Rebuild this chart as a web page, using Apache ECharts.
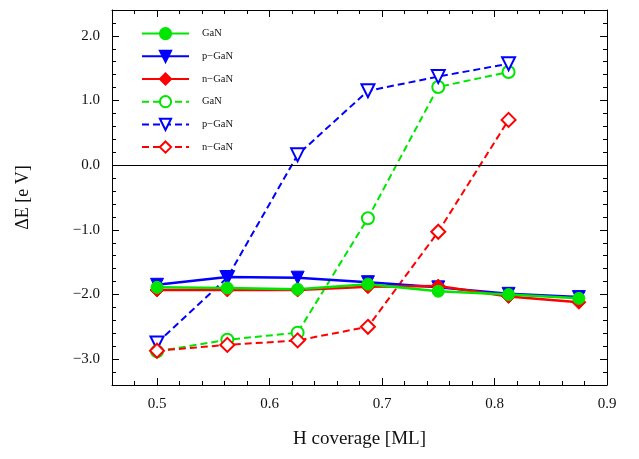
<!DOCTYPE html>
<html lang="en">
<head>
    <meta charset="UTF-8">
    <title>H coverage</title>
    <script src="https://cdn.jsdelivr.net/npm/echarts@6/dist/echarts.min.js"></script>
    <style>
        body { margin: 0; background: #fff; }
        #main { width: 639px; height: 459px; }
    </style>
</head>
<body>
<div id="main"></div>
<script type="text/javascript">
    // H coverage (ML)
    var coverage = [0.5, 0.5625, 0.625, 0.6875, 0.75, 0.8125, 0.875];
    // solid lines
    var ganSolid  = [-1.89, -1.90, -1.92, -1.84, -1.95, -2.00, -2.06];
    var pganSolid = [-1.85, -1.73, -1.74, -1.81, -1.89, -1.99, -2.04];
    var nganSolid = [-1.93, -1.93, -1.93, -1.88, -1.87, -2.03, -2.12];
    // dashed lines (no point at 0.875)
    var ganDash  = [-2.88, -2.70, -2.59, -0.82, 1.21, 1.44];
    var pganDash = [-2.75, -1.74, 0.16, 1.15, 1.37, 1.57];
    var nganDash = [-2.87, -2.78, -2.71, -2.50, -1.03, 0.70];

    var xTicks = [0.5, 0.6, 0.7, 0.8, 0.9];
    var yTicks = [-3, -2, -1, 0, 1, 2];

    var xMin = 0.46, xMax = 0.9, yMin = -3.4, yMax = 2.4;

    // minor ticks every 0.02 / 0.2
    var xMinor = [], yMinor = [];
    for (var i = 24; i < 45; i++) { if (i % 5 !== 0) xMinor.push(+(i * 0.02).toFixed(2)); }
    for (var j = -16; j <= 11; j++) { if (j % 5 !== 0) yMinor.push(+(j * 0.2).toFixed(1)); }

    function pairs(vals) {
        var out = [];
        for (var k = 0; k < vals.length; k++) out.push([coverage[k], vals[k]]);
        return out;
    }

    var serif = 'Liberation Serif';
    var GREEN = '#00e600', BLUE = '#0000ff', RED = '#ff0000';

    function fmtY(v) {
        if (Math.abs(v) < 1e-9) return '0.0';
        return (v < 0 ? '\u2212' : '') + Math.abs(v).toFixed(1);
    }

    function mkX(pos, ticks, len, showLine, showLabel, extra) {
        var a = {
            type: 'value', position: pos, min: xMin, max: xMax,
            gridIndex: 0,
            axisLine: { show: showLine, onZero: false, lineStyle: { color: '#000', width: 1 } },
            axisTick: { show: true, inside: true, length: len, customValues: ticks, lineStyle: { color: '#000' } },
            axisLabel: { show: showLabel, customValues: xTicks, formatter: function (v) { return v.toFixed(1); },
                fontFamily: serif, fontSize: 15, color: '#111', margin: 12 },
            splitLine: { show: false }
        };
        if (extra) for (var k in extra) a[k] = extra[k];
        return a;
    }
    function mkY(pos, ticks, len, showLine, showLabel, extra) {
        var a = {
            type: 'value', position: pos, min: yMin, max: yMax,
            gridIndex: 0,
            axisLine: { show: showLine, onZero: false, lineStyle: { color: '#000', width: 1 } },
            axisTick: { show: true, inside: true, length: len, customValues: ticks, lineStyle: { color: '#000' } },
            axisLabel: { show: showLabel, customValues: yTicks, formatter: fmtY,
                fontFamily: serif, fontSize: 15, color: '#111', margin: 12 },
            splitLine: { show: false }
        };
        if (extra) for (var k in extra) a[k] = extra[k];
        return a;
    }

    function solid(name, vals, color, symbol, size, rot) {
        return {
            name: name, type: 'line', xAxisIndex: 0, yAxisIndex: 0,
            data: pairs(vals), symbol: symbol, symbolSize: size, symbolRotate: rot || 0,
            lineStyle: { color: color, width: 2.5 },
            itemStyle: { color: color, borderColor: color, borderWidth: 1 },
            z: 3
        };
    }
    function dashed(name, vals, color, symbol, size, rot) {
        return {
            name: name, type: 'line', xAxisIndex: 0, yAxisIndex: 0,
            data: pairs(vals), symbol: symbol, symbolSize: size, symbolRotate: rot || 0,
            lineStyle: { color: color, width: 2, type: [7, 4] },
            itemStyle: { color: '#fff', borderColor: color, borderWidth: 2 },
            z: 2
        };
    }

    var myChart = echarts.init(document.getElementById('main'));
    var zeroLine = dashed('GaN ', ganDash, GREEN, 'circle', 12);
    zeroLine.markLine = {
        silent: true, symbol: 'none', label: { show: false },
        lineStyle: { color: '#000', width: 1, type: 'solid' },
        data: [{ yAxis: 0 }]
    };

    myChart.setOption({
        animation: false,
        backgroundColor: '#fff',
        grid: { left: 112, right: 32, top: 10, bottom: 74 },
        legend: {
            orient: 'vertical', left: 136, top: 22,
            itemWidth: 47, itemHeight: 14, itemGap: 9.5,
            textStyle: { fontFamily: serif, fontSize: 10.5, color: '#111', padding: [0, 0, 0, 8] },
            data: ['GaN', 'p\u2212GaN', 'n\u2212GaN', 'GaN ', 'p\u2212GaN ', 'n\u2212GaN ']
        },
        xAxis: [
            mkX('bottom', xTicks, 7, true, true, {
                name: 'H coverage [ML]', nameLocation: 'middle', nameGap: 45,
                nameTextStyle: { fontFamily: serif, fontSize: 19, color: '#111' }
            }),
            mkX('bottom', xMinor, 4, false, false),
            mkX('top', xTicks, 7, true, false),
            mkX('top', xMinor, 4, false, false)
        ],
        yAxis: [
            mkY('left', yTicks, 7, true, true, {
                name: '\u0394E [e V]', nameLocation: 'middle', nameRotate: 90, nameGap: 80,
                nameTextStyle: { fontFamily: serif, fontSize: 18, color: '#111' }
            }),
            mkY('left', yMinor, 4, false, false),
            mkY('right', yTicks, 7, true, false),
            mkY('right', yMinor, 4, false, false)
        ],
        series: [
            solid('p\u2212GaN', pganSolid, BLUE, 'triangle', 13, 180),
            solid('n\u2212GaN', nganSolid, RED, 'diamond', 14),
            solid('GaN', ganSolid, GREEN, 'circle', 12),
            zeroLine,
            dashed('p\u2212GaN ', pganDash, BLUE, 'triangle', 13, 180),
            dashed('n\u2212GaN ', nganDash, RED, 'diamond', 14)
        ]
    });
</script>
</body>
</html>
